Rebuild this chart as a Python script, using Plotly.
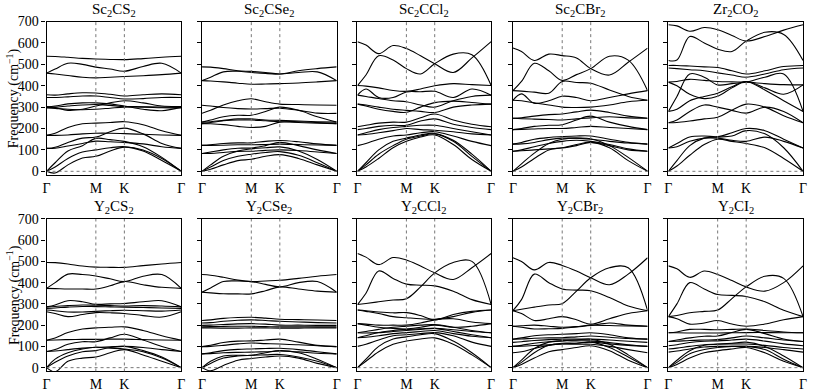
import plotly.graph_objects as go
from plotly.subplots import make_subplots

# k-path sample points (Gamma - M - K - Gamma)
k_path = [0, 0.1, 0.25, 0.42, 0.577, 0.744, 0.911, 1.13, 1.35, 1.577]
k_ticks = [0, 0.577, 0.911, 1.577]
k_labels = ["Γ", "M", "K", "Γ"]

sc2cs2 = [
    [538, 537, 533, 528, 525, 523, 522, 527, 533, 538],
    [459, 478, 505, 500, 487, 478, 468, 490, 505, 459],
    [459, 455, 448, 440, 437, 440, 443, 447, 452, 459],
    [358, 356, 362, 367, 366, 360, 352, 358, 362, 358],
    [345, 345, 348, 352, 352, 345, 338, 340, 345, 345],
    [303, 298, 285, 290, 305, 320, 330, 320, 305, 303],
    [300, 305, 315, 320, 320, 315, 305, 290, 283, 300],
    [298, 300, 305, 310, 312, 308, 303, 302, 300, 298],
    [296, 294, 290, 288, 290, 295, 300, 300, 297, 296],
    [168, 178, 205, 222, 225, 228, 232, 218, 190, 168],
    [168, 168, 170, 175, 178, 178, 176, 173, 170, 168],
    [107, 112, 135, 155, 160, 185, 202, 175, 130, 107],
    [107, 108, 118, 130, 141, 138, 135, 128, 115, 107],
    [0, 40, 95, 120, 154, 148, 140, 115, 65, 0],
    [0, 20, 60, 90, 100, 110, 115, 100, 60, 0],
    [0, -8, 30, 62, 70, 95, 113, 95, 50, 0],
]

sc2cse2 = [
    [488, 487, 480, 470, 467, 462, 455, 470, 480, 488],
    [424, 440, 465, 468, 462, 457, 455, 462, 465, 424],
    [424, 422, 418, 412, 407, 408, 410, 413, 418, 424],
    [271, 285, 310, 330, 339, 325, 314, 312, 310, 309],
    [309, 305, 298, 293, 291, 293, 295, 285, 272, 271],
    [230, 240, 255, 262, 262, 280, 300, 285, 255, 230],
    [230, 232, 238, 245, 245, 240, 238, 235, 232, 230],
    [223, 222, 218, 210, 205, 210, 230, 232, 228, 223],
    [223, 228, 236, 240, 240, 236, 232, 228, 225, 223],
    [121, 124, 130, 133, 133, 140, 144, 138, 128, 121],
    [121, 121, 122, 124, 124, 125, 127, 125, 123, 121],
    [83, 90, 100, 108, 109, 120, 135, 120, 100, 83],
    [83, 84, 88, 93, 94, 98, 100, 97, 90, 83],
    [0, 30, 70, 95, 105, 110, 114, 95, 55, 0],
    [0, 20, 50, 70, 80, 88, 92, 75, 40, 0],
    [0, 10, 30, 50, 56, 70, 78, 60, 30, 0],
]

sc2ccl2 = [
    [606, 590, 550, 588, 574, 540, 503, 462, 530, 606],
    [401, 450, 540, 520, 480, 455, 503, 548, 545, 401],
    [401, 398, 390, 378, 374, 385, 400, 410, 405, 401],
    [356, 385, 345, 345, 371, 372, 374, 345, 385, 356],
    [356, 350, 340, 330, 325, 310, 300, 330, 350, 356],
    [314, 305, 290, 280, 276, 300, 321, 328, 322, 314],
    [314, 310, 300, 290, 285, 280, 275, 300, 310, 314],
    [208, 215, 225, 230, 230, 250, 268, 240, 220, 208],
    [195, 200, 210, 215, 215, 235, 245, 220, 205, 195],
    [170, 180, 195, 205, 210, 215, 215, 200, 185, 170],
    [170, 172, 180, 190, 200, 195, 192, 185, 175, 170],
    [120, 130, 150, 165, 170, 180, 185, 165, 140, 120],
    [0, 40, 100, 140, 155, 170, 177, 145, 80, 0],
    [0, 30, 80, 120, 150, 165, 175, 140, 70, 0],
    [0, 20, 60, 110, 140, 160, 170, 125, 55, 0],
]

sc2cbr2 = [
    [576, 560, 518, 548, 541, 530, 480, 450, 510, 576],
    [377, 420, 505, 470, 425, 452, 480, 538, 520, 377],
    [377, 375, 370, 365, 420, 415, 412, 380, 350, 332],
    [332, 362, 318, 330, 351, 345, 330, 345, 362, 377],
    [332, 330, 320, 310, 300, 298, 300, 310, 325, 332],
    [248, 250, 258, 265, 268, 278, 286, 275, 258, 248],
    [248, 246, 244, 242, 240, 245, 250, 255, 250, 248],
    [195, 200, 210, 215, 218, 240, 258, 230, 210, 195],
    [195, 196, 198, 200, 200, 205, 210, 205, 200, 195],
    [127, 135, 150, 158, 162, 165, 165, 150, 135, 127],
    [127, 128, 135, 148, 155, 155, 150, 140, 132, 127],
    [94, 100, 115, 130, 140, 145, 140, 125, 105, 94],
    [94, 96, 100, 105, 109, 120, 135, 120, 100, 94],
    [0, 35, 85, 130, 150, 155, 152, 120, 65, 0],
    [0, 20, 60, 100, 110, 125, 135, 110, 50, 0],
]

zr2co2 = [
    [685, 680, 655, 672, 662, 635, 609, 630, 660, 685],
    [518, 520, 630, 600, 571, 560, 609, 650, 640, 518],
    [495, 495, 492, 488, 485, 470, 455, 470, 490, 495],
    [483, 480, 475, 470, 460, 450, 440, 455, 475, 483],
    [280, 350, 455, 440, 404, 410, 417, 440, 455, 280],
    [417, 400, 360, 340, 351, 390, 420, 390, 360, 404],
    [417, 420, 430, 425, 420, 418, 417, 410, 405, 404],
    [280, 290, 330, 350, 365, 395, 420, 380, 330, 280],
    [227, 240, 280, 310, 300, 285, 272, 300, 280, 227],
    [227, 228, 235, 245, 253, 285, 314, 300, 260, 227],
    [109, 130, 160, 165, 162, 180, 200, 190, 150, 109],
    [109, 115, 140, 155, 155, 145, 140, 160, 140, 109],
    [0, 50, 120, 155, 160, 165, 190, 175, 110, 0],
    [0, 25, 75, 125, 150, 140, 130, 110, 60, 0],
]

y2cs2 = [
    [495, 494, 488, 478, 473, 472, 472, 480, 488, 495],
    [373, 400, 440, 438, 431, 418, 405, 430, 438, 373],
    [373, 372, 370, 370, 370, 385, 405, 390, 378, 373],
    [286, 295, 315, 310, 298, 300, 302, 310, 315, 286],
    [286, 288, 292, 295, 294, 292, 290, 292, 290, 286],
    [279, 281, 285, 288, 287, 286, 285, 283, 281, 279],
    [271, 268, 262, 262, 265, 268, 270, 268, 266, 271],
    [263, 255, 240, 250, 259, 258, 255, 245, 238, 263],
    [129, 130, 132, 133, 133, 134, 134, 132, 130, 129],
    [129, 140, 165, 182, 187, 190, 192, 175, 150, 129],
    [76, 85, 110, 122, 122, 140, 157, 130, 100, 76],
    [76, 78, 85, 92, 96, 98, 100, 95, 85, 76],
    [0, 40, 70, 88, 96, 92, 88, 75, 45, 0],
    [0, 25, 55, 75, 80, 95, 100, 80, 50, 0],
    [0, -20, 30, 45, 50, 70, 85, 60, 30, 0],
]

y2cse2 = [
    [438, 435, 425, 412, 405, 408, 411, 420, 430, 438],
    [355, 375, 405, 408, 405, 392, 380, 400, 405, 355],
    [355, 352, 348, 347, 347, 362, 380, 370, 360, 355],
    [222, 225, 232, 236, 237, 233, 228, 226, 224, 222],
    [210, 212, 218, 223, 225, 222, 218, 215, 212, 210],
    [199, 200, 203, 206, 207, 205, 200, 200, 199, 199],
    [192, 193, 194, 195, 195, 193, 192, 192, 192, 192],
    [187, 187, 186, 186, 187, 187, 186, 186, 187, 187],
    [99, 105, 118, 125, 126, 130, 134, 120, 105, 99],
    [99, 100, 105, 112, 116, 113, 111, 108, 103, 99],
    [65, 70, 80, 86, 88, 90, 91, 85, 75, 65],
    [65, 66, 70, 72, 73, 75, 78, 74, 68, 65],
    [0, 30, 55, 58, 58, 70, 80, 70, 40, 0],
    [0, 20, 45, 55, 58, 60, 62, 50, 30, 0],
    [0, -15, 10, 35, 43, 50, 55, 45, 20, 0],
]

y2ccl2 = [
    [537, 520, 485, 518, 507, 478, 446, 415, 470, 537],
    [297, 350, 455, 420, 393, 388, 385, 360, 320, 297],
    [297, 302, 310, 318, 324, 380, 446, 495, 500, 297],
    [271, 265, 255, 240, 235, 230, 228, 240, 260, 271],
    [271, 268, 262, 258, 259, 245, 225, 250, 265, 271],
    [207, 205, 200, 200, 200, 210, 225, 230, 215, 207],
    [207, 200, 190, 185, 182, 190, 200, 190, 195, 207],
    [164, 170, 180, 190, 195, 200, 203, 190, 175, 164],
    [164, 163, 165, 170, 175, 180, 185, 178, 170, 164],
    [141, 150, 165, 175, 180, 183, 185, 170, 155, 141],
    [141, 143, 150, 160, 165, 170, 175, 160, 148, 141],
    [100, 110, 130, 150, 155, 160, 165, 150, 120, 100],
    [0, 40, 100, 135, 145, 155, 160, 125, 70, 0],
    [0, 30, 75, 110, 125, 135, 140, 110, 60, 0],
]

y2cbr2 = [
    [517, 500, 460, 495, 481, 455, 423, 390, 440, 517],
    [268, 320, 440, 400, 370, 365, 362, 330, 290, 268],
    [268, 275, 285, 295, 301, 360, 423, 470, 470, 268],
    [268, 255, 222, 230, 240, 225, 205, 230, 255, 268],
    [195, 197, 200, 195, 190, 193, 200, 198, 196, 195],
    [195, 190, 182, 183, 185, 192, 198, 210, 200, 195],
    [134, 140, 150, 155, 157, 160, 164, 155, 140, 134],
    [134, 135, 138, 140, 141, 145, 149, 143, 137, 134],
    [119, 122, 128, 132, 134, 134, 134, 130, 124, 119],
    [100, 105, 115, 122, 126, 126, 126, 118, 108, 100],
    [100, 101, 104, 108, 111, 115, 120, 112, 105, 100],
    [70, 75, 90, 105, 111, 110, 110, 100, 85, 70],
    [0, 35, 90, 120, 126, 130, 134, 110, 60, 0],
    [0, 25, 70, 105, 115, 115, 120, 95, 50, 0],
    [0, 15, 45, 75, 85, 95, 103, 80, 35, 0],
]

y2ci2 = [
    [479, 465, 425, 455, 438, 410, 380, 360, 400, 479],
    [240, 300, 400, 370, 344, 340, 335, 310, 270, 240],
    [240, 245, 258, 265, 271, 325, 380, 430, 420, 240],
    [240, 230, 205, 210, 222, 205, 195, 205, 225, 240],
    [164, 168, 180, 180, 178, 180, 182, 175, 168, 164],
    [164, 164, 163, 163, 163, 164, 165, 165, 164, 164],
    [123, 130, 140, 148, 149, 165, 180, 160, 135, 123],
    [123, 124, 128, 130, 132, 140, 149, 140, 130, 123],
    [103, 108, 118, 124, 126, 130, 134, 125, 112, 103],
    [88, 92, 100, 108, 111, 112, 111, 105, 95, 88],
    [73, 78, 88, 97, 100, 100, 100, 95, 85, 73],
    [0, 35, 80, 105, 110, 115, 120, 100, 55, 0],
    [0, 25, 65, 85, 95, 100, 100, 85, 40, 0],
    [0, 15, 45, 70, 80, 88, 95, 70, 30, 0],
]

titles = [
    "Sc<sub>2</sub>CS<sub>2</sub>", "Sc<sub>2</sub>CSe<sub>2</sub>", "Sc<sub>2</sub>CCl<sub>2</sub>",
    "Sc<sub>2</sub>CBr<sub>2</sub>", "Zr<sub>2</sub>CO<sub>2</sub>",
    "Y<sub>2</sub>CS<sub>2</sub>", "Y<sub>2</sub>CSe<sub>2</sub>", "Y<sub>2</sub>CCl<sub>2</sub>",
    "Y<sub>2</sub>CBr<sub>2</sub>", "Y<sub>2</sub>CI<sub>2</sub>",
]
bands = [sc2cs2, sc2cse2, sc2ccl2, sc2cbr2, zr2co2, y2cs2, y2cse2, y2ccl2, y2cbr2, y2ci2]

W, H = 813, 392
col_px = [(43, 179), (200, 336), (357, 492), (514, 650), (671, 807)]
row_px = [(15, 173), (218, 375)]
FONT = "Liberation Serif"

fig = make_subplots(rows=2, cols=5)

for i, (title, panel) in enumerate(zip(titles, bands)):
    r, c = i // 5 + 1, i % 5 + 1
    for b in panel:
        fig.add_trace(go.Scatter(
            x=k_path, y=b, mode="lines",
            line=dict(color="black", width=1.1, shape="spline", smoothing=1.0),
            showlegend=False, hoverinfo="skip"), row=r, col=c)
    # dotted guides
    for kx in k_ticks[1:3]:
        fig.add_shape(type="line", x0=kx, x1=kx, y0=-18, y1=700,
                      line=dict(color="#777777", width=1, dash="dot"), row=r, col=c)
    fig.add_shape(type="line", x0=0, x1=1.577, y0=0, y1=0,
                  line=dict(color="#777777", width=1, dash="dot"), row=r, col=c)

    x0, x1 = col_px[c - 1]
    y0, y1 = row_px[r - 1]
    fig.update_xaxes(domain=[x0 / W, x1 / W], range=[0, 1.577],
                     tickvals=k_ticks, ticktext=k_labels, ticks="",
                     showline=True, mirror=True, linecolor="black", linewidth=1.2,
                     showgrid=False, zeroline=False,
                     tickfont=dict(family=FONT, size=14, color="black"), row=r, col=c)
    fig.update_yaxes(domain=[1 - y1 / H, 1 - y0 / H], range=[-18, 700],
                     tickvals=[0, 100, 200, 300, 400, 500, 600, 700],
                     ticks="outside", ticklen=4, tickcolor="black",
                     showticklabels=(c == 1),
                     showline=True, mirror=True, linecolor="black", linewidth=1.2,
                     showgrid=False, zeroline=False,
                     tickfont=dict(family=FONT, size=14, color="black"), row=r, col=c)
    fig.add_annotation(text=title, x=(x0 + x1) / 2 / W, y=1 - y0 / H + 0.002,
                       xref="paper", yref="paper", xanchor="center", yanchor="bottom",
                       showarrow=False, font=dict(family=FONT, size=15, color="black"))

for y0, y1 in row_px:
    fig.add_annotation(text="Frequency (cm<sup>−1</sup>)", textangle=-90,
                       x=9 / W, y=1 - (y0 + y1) / 2 / H, xref="paper", yref="paper",
                       xanchor="center", yanchor="middle", showarrow=False,
                       font=dict(family=FONT, size=14, color="black"))

fig.update_layout(width=W, height=H, margin=dict(l=0, r=0, t=0, b=0),
                  plot_bgcolor="white", paper_bgcolor="white")

# the page body has a default 8px margin; remove it so the figure fills the window
fig.write_html("out.html", config={"displayModeBar": False},
               post_script="document.body.style.margin='0';")
